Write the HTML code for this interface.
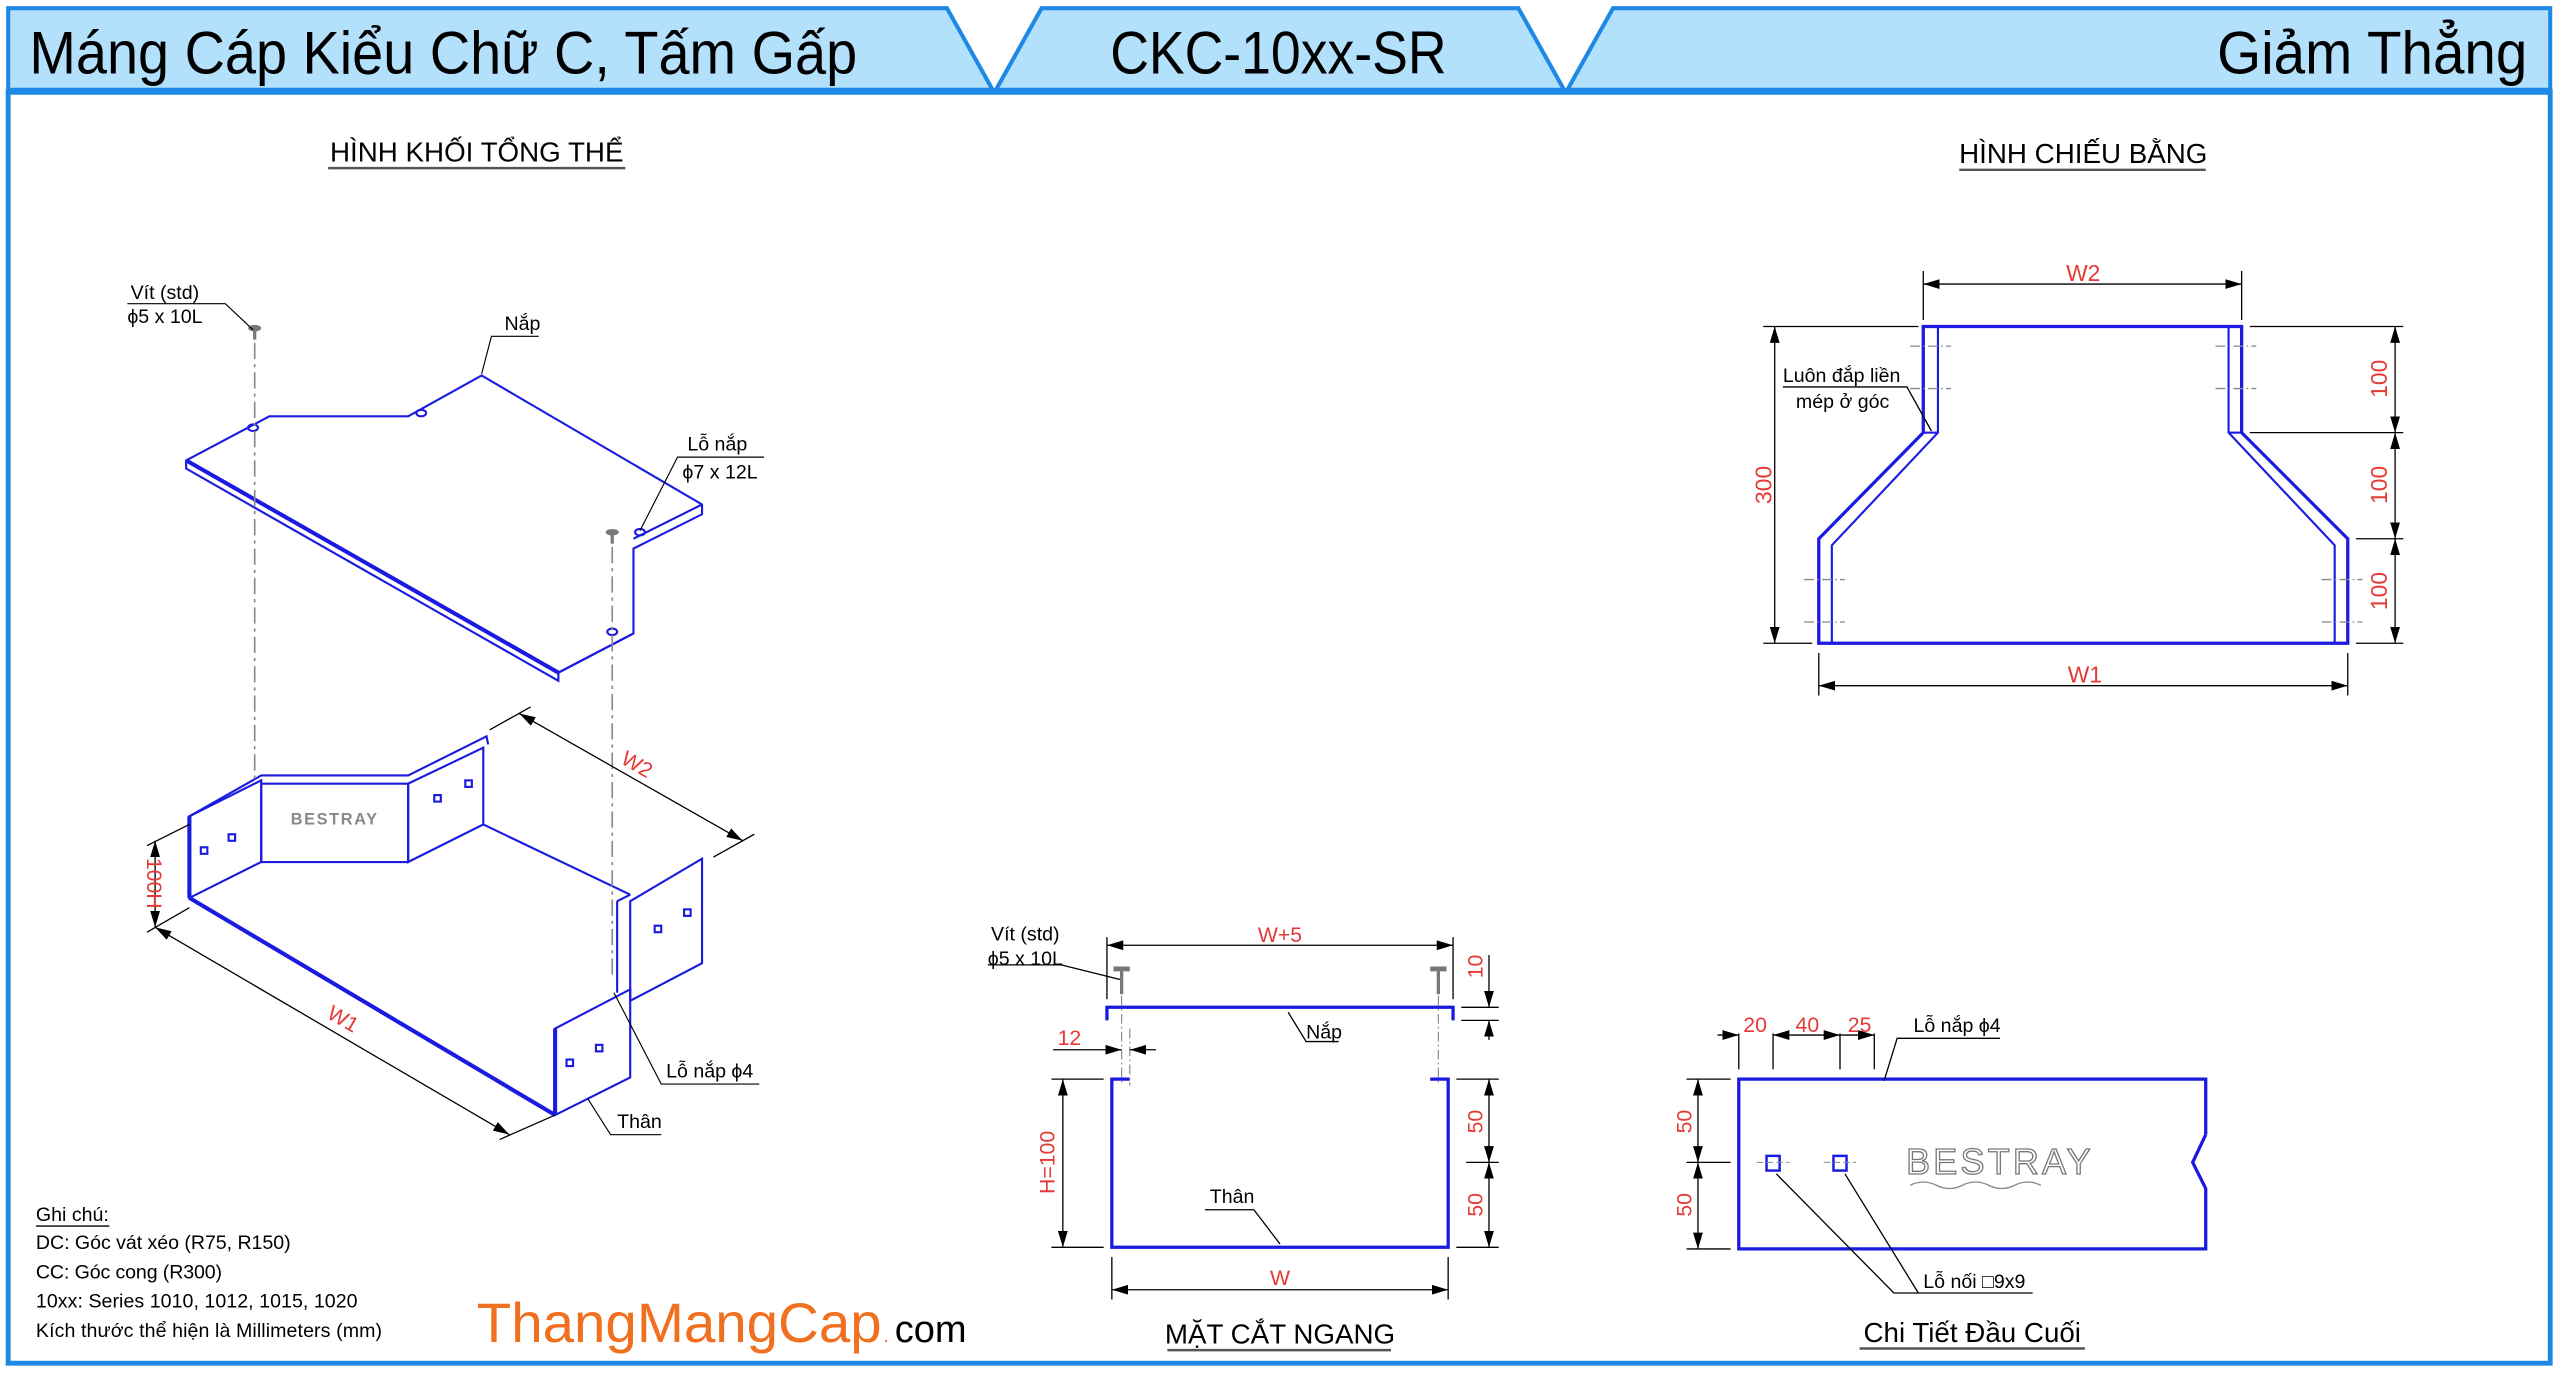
<!DOCTYPE html>
<html><head><meta charset="utf-8"><style>
html,body{margin:0;padding:0;background:#fff;}
svg{display:block;}
text{font-family:"Liberation Sans",sans-serif;}
</style></head><body>
<svg width="2560" height="1373" viewBox="0 0 1568 841" preserveAspectRatio="none" xmlns="http://www.w3.org/2000/svg">
<defs>
<marker id="ar" markerWidth="10" markerHeight="6" refX="10" refY="3" orient="auto-start-reverse" markerUnits="userSpaceOnUse"><path d="M0,0 L10,3 L0,6 Z" fill="#000"/></marker>
</defs>
<rect x="5" y="56" width="1557" height="779" fill="none" stroke="#1e88e5" stroke-width="3"/>
<polygon points="5,5 580,5 608,55 5,55" fill="#b3e0fb" stroke="#1e88e5" stroke-width="2.5"/>
<polygon points="638,5 930,5 958,55 610,55" fill="#b3e0fb" stroke="#1e88e5" stroke-width="2.5"/>
<polygon points="988,5 1562,5 1562,55 960,55" fill="#b3e0fb" stroke="#1e88e5" stroke-width="2.5"/>
<line x1="5" y1="56" x2="1562" y2="56" stroke="#1e88e5" stroke-width="4"/>
<text x="18" y="45" font-size="37" fill="#000" textLength="507" lengthAdjust="spacingAndGlyphs">Máng Cáp Kiểu Chữ C, Tấm Gấp</text>
<text x="680" y="45" font-size="37" fill="#000" textLength="206" lengthAdjust="spacingAndGlyphs">CKC-10xx-SR</text>
<text x="1358" y="45" font-size="37" fill="#000" textLength="190" lengthAdjust="spacingAndGlyphs">Giảm Thẳng</text>

<g font-size="17" fill="#000" text-anchor="middle">
<text x="292" y="99">HÌNH KHỐI TỔNG THỂ</text>
<text x="1276" y="100">HÌNH CHIẾU BẰNG</text>
<text x="784" y="823">MẶT CẮT NGANG</text>
<text x="1208" y="822">Chi Tiết Đầu Cuối</text>
</g>
<g stroke="#555" stroke-width="1.5">
<line x1="201" y1="103" x2="383" y2="103"/><line x1="1200" y1="104" x2="1351" y2="104"/>
<line x1="715" y1="827" x2="852" y2="827"/><line x1="1139" y1="826" x2="1277" y2="826"/>
</g>

<g fill="none" stroke="#1a1ae0" stroke-width="1.3">
<polygon points="114,282 165,255 250,255 295,230 430,309 430,315 388,336 388,388 342,412 342,417 114,287" fill="#fff"/>
<line x1="114" y1="282" x2="342" y2="412" stroke-width="2.5"/>
<line x1="342" y1="412" x2="388" y2="388"/>
<line x1="388" y1="330" x2="430" y2="309"/>
<ellipse cx="155" cy="262" rx="3" ry="2"/><ellipse cx="258" cy="253" rx="3" ry="2"/>
<ellipse cx="375" cy="387" rx="3" ry="2"/><ellipse cx="392" cy="326" rx="3" ry="2"/>
</g>
<g fill="none" stroke="#1a1ae0" stroke-width="1.3">
<polygon points="116,500 160,478 160,528 116,550"/>
<polygon points="160,480 250,480 250,528 160,528"/>
<polygon points="250,480 296,458 296,505 250,528"/>
<polyline points="116,500 160,475 250,475 298,451 299,456"/>
<line x1="296" y1="505" x2="386" y2="548"/>
<polygon points="386,552 430,526 430,590 386,613"/>
<polygon points="340,630 386,606 386,660 340,683"/>
<line x1="378" y1="552" x2="386" y2="548"/><line x1="378" y1="552" x2="378" y2="608"/>
<line x1="116" y1="550" x2="340" y2="683" stroke-width="2.5"/>
<line x1="116" y1="500" x2="116" y2="550" stroke-width="2.5"/>
<line x1="340" y1="630" x2="340" y2="683" stroke-width="2.5"/>
<rect x="123" y="519" width="4" height="4"/><rect x="140" y="511" width="4" height="4"/>
<rect x="266" y="487" width="4" height="4"/><rect x="285" y="478" width="4" height="4"/>
<rect x="401" y="567" width="4" height="4"/><rect x="419" y="557" width="4" height="4"/>
<rect x="347" y="649" width="4" height="4"/><rect x="365" y="640" width="4" height="4"/>
</g>
<text x="205" y="505" font-size="10" fill="#888" text-anchor="middle" font-weight="bold" letter-spacing="1">BESTRAY</text>
<g fill="#777"><ellipse cx="156" cy="201" rx="4" ry="2"/><rect x="155" y="202" width="2" height="6"/>
<ellipse cx="375" cy="326" rx="4" ry="2"/><rect x="374" y="327" width="2" height="6"/></g>
<g stroke="#888" stroke-width="1" stroke-dasharray="10,3,2,3">
<line x1="156" y1="210" x2="156" y2="480"/><line x1="375" y1="335" x2="375" y2="600"/>
</g>
<g stroke="#000" stroke-width="0.8" fill="none">
<line x1="318" y1="437" x2="455" y2="515" marker-start="url(#ar)" marker-end="url(#ar)"/>
<line x1="300" y1="447" x2="325" y2="433"/><line x1="437" y1="525" x2="462" y2="511"/>
<line x1="95" y1="568" x2="312" y2="695" marker-start="url(#ar)" marker-end="url(#ar)"/>
<line x1="90" y1="571" x2="116" y2="556"/><line x1="306" y1="698" x2="340" y2="683"/>
<line x1="95" y1="515" x2="95" y2="568" marker-start="url(#ar)" marker-end="url(#ar)"/>
<line x1="90" y1="518" x2="116" y2="505"/>
</g>
<g fill="#e53935" font-size="13">
<text x="388" y="472" transform="rotate(30 388 472)" text-anchor="middle">W2</text>
<text x="208" y="628" transform="rotate(30 208 628)" text-anchor="middle">W1</text>
<text x="90" y="541" transform="rotate(90 90 541)" text-anchor="middle">100H</text>
</g>
<g font-size="12" fill="#000">
<text x="80" y="183">Vít (std)</text><text x="78" y="198">ϕ5 x 10L</text>
<text x="309" y="202">Nắp</text>
<text x="421" y="276">Lỗ nắp</text><text x="418" y="293">ϕ7 x 12L</text>
<text x="408" y="660">Lỗ nắp ϕ4</text>
<text x="378" y="691">Thân</text>
</g>
<g stroke="#000" stroke-width="0.7" fill="none">
<polyline points="78,186 138,186 155,202"/>
<polyline points="330,206 301,206 295,229"/>
<polyline points="468,280 415,280 392,325"/>
<polyline points="465,664 405,664 376,608"/>
<polyline points="405,695 374,695 360,673"/>
</g>

<g font-size="12" fill="#000">
<text x="22" y="748">Ghi chú:</text>
<text x="22" y="765" textLength="156">DC: Góc vát xéo (R75, R150)</text>
<text x="22" y="783" textLength="114">CC: Góc cong (R300)</text>
<text x="22" y="801" textLength="197">10xx: Series 1010, 1012, 1015, 1020</text>
<text x="22" y="819" textLength="212">Kích thước thể hiện là Millimeters (mm)</text>
</g>
<line x1="22" y1="751" x2="67" y2="751" stroke="#000" stroke-width="0.8"/>
<text x="292" y="822" font-size="34" fill="#f07020" textLength="248" lengthAdjust="spacingAndGlyphs">ThangMangCap</text>
<text x="541" y="822" font-size="12" fill="#f07020">.</text>
<text x="548" y="822" font-size="23" fill="#000" textLength="44" lengthAdjust="spacingAndGlyphs">com</text>

<g fill="none" stroke="#1a1ae0" stroke-width="2">
<polygon points="1178,200 1373,200 1373,265 1438,330 1438,394 1114,394 1114,330 1178,265"/>
</g>
<g fill="none" stroke="#1a1ae0" stroke-width="1.3">
<polyline points="1187,200 1187,265 1122,334 1122,394"/>
<polyline points="1365,200 1365,265 1430,334 1430,394"/>
<line x1="1178" y1="265" x2="1187" y2="265"/><line x1="1365" y1="265" x2="1373" y2="265"/>
</g>
<g stroke="#888" stroke-width="0.8" stroke-dasharray="6,2,1,2">
<line x1="1170" y1="212" x2="1195" y2="212"/><line x1="1170" y1="238" x2="1195" y2="238"/>
<line x1="1357" y1="212" x2="1382" y2="212"/><line x1="1357" y1="238" x2="1382" y2="238"/>
<line x1="1105" y1="355" x2="1130" y2="355"/><line x1="1105" y1="381" x2="1130" y2="381"/>
<line x1="1422" y1="355" x2="1447" y2="355"/><line x1="1422" y1="381" x2="1447" y2="381"/>
</g>
<g stroke="#000" stroke-width="0.8" fill="none">
<line x1="1178" y1="174" x2="1373" y2="174" marker-start="url(#ar)" marker-end="url(#ar)"/>
<line x1="1178" y1="166" x2="1178" y2="196"/><line x1="1373" y1="166" x2="1373" y2="196"/>
<line x1="1114" y1="420" x2="1438" y2="420" marker-start="url(#ar)" marker-end="url(#ar)"/>
<line x1="1114" y1="400" x2="1114" y2="426"/><line x1="1438" y1="400" x2="1438" y2="426"/>
<line x1="1087" y1="200" x2="1087" y2="394" marker-start="url(#ar)" marker-end="url(#ar)"/>
<line x1="1080" y1="200" x2="1175" y2="200"/><line x1="1080" y1="394" x2="1110" y2="394"/>
<line x1="1467" y1="200" x2="1467" y2="265" marker-start="url(#ar)" marker-end="url(#ar)"/>
<line x1="1467" y1="265" x2="1467" y2="330" marker-start="url(#ar)" marker-end="url(#ar)"/>
<line x1="1467" y1="330" x2="1467" y2="394" marker-start="url(#ar)" marker-end="url(#ar)"/>
<line x1="1378" y1="200" x2="1472" y2="200"/><line x1="1378" y1="265" x2="1472" y2="265"/>
<line x1="1443" y1="330" x2="1472" y2="330"/><line x1="1443" y1="394" x2="1472" y2="394"/>
<polyline points="1092,237 1168,237 1183,264"/>
</g>
<g fill="#e53935" font-size="14" text-anchor="middle">
<text x="1276" y="172">W2</text><text x="1277" y="418">W1</text>
<text x="1085" y="297" transform="rotate(-90 1085 297)">300</text>
<text x="1462" y="232" transform="rotate(-90 1462 232)">100</text>
<text x="1462" y="297" transform="rotate(-90 1462 297)">100</text>
<text x="1462" y="362" transform="rotate(-90 1462 362)">100</text>
</g>
<g font-size="12" fill="#000"><text x="1092" y="234">Luôn đắp liền</text><text x="1100" y="250">mép ở góc</text></g>

<g fill="none" stroke="#1a1ae0" stroke-width="2">
<polyline points="678,625 678,617 890,617 890,625"/>
<polyline points="692,661 681,661 681,764 887,764 887,661 876,661"/>
</g>
<g fill="#777"><rect x="682" y="592" width="10" height="3"/><rect x="686" y="595" width="2" height="14"/>
<rect x="876" y="592" width="10" height="3"/><rect x="880" y="595" width="2" height="14"/></g>
<g stroke="#888" stroke-width="0.7" stroke-dasharray="6,2,1,2">
<line x1="687" y1="610" x2="687" y2="665"/><line x1="881" y1="610" x2="881" y2="665"/>
<line x1="692" y1="630" x2="692" y2="665"/>
</g>
<g stroke="#000" stroke-width="0.8" fill="none">
<line x1="678" y1="579" x2="890" y2="579" marker-start="url(#ar)" marker-end="url(#ar)"/>
<line x1="678" y1="574" x2="678" y2="612"/><line x1="890" y1="574" x2="890" y2="612"/>
<line x1="645" y1="643" x2="687" y2="643" marker-end="url(#ar)"/><line x1="708" y1="643" x2="692" y2="643" marker-end="url(#ar)"/>
<line x1="651" y1="661" x2="651" y2="764" marker-start="url(#ar)" marker-end="url(#ar)"/>
<line x1="644" y1="661" x2="676" y2="661"/><line x1="644" y1="764" x2="676" y2="764"/>
<line x1="912" y1="661" x2="912" y2="712" marker-start="url(#ar)" marker-end="url(#ar)"/>
<line x1="912" y1="712" x2="912" y2="764" marker-start="url(#ar)" marker-end="url(#ar)"/>
<line x1="892" y1="661" x2="918" y2="661"/><line x1="898" y1="712" x2="918" y2="712"/><line x1="892" y1="764" x2="918" y2="764"/>
<line x1="912" y1="585" x2="912" y2="617" marker-end="url(#ar)"/><line x1="912" y1="637" x2="912" y2="625" marker-end="url(#ar)"/>
<line x1="895" y1="617" x2="918" y2="617"/><line x1="895" y1="625" x2="918" y2="625"/>
<line x1="681" y1="790" x2="887" y2="790" marker-start="url(#ar)" marker-end="url(#ar)"/>
<line x1="681" y1="770" x2="681" y2="796"/><line x1="887" y1="770" x2="887" y2="796"/>
<polyline points="605,591 650,591 686,600"/>
<polyline points="820,638 800,638 789,620"/>
<polyline points="738,741 768,741 784,762"/>
</g>
<g fill="#e53935" font-size="13" text-anchor="middle">
<text x="784" y="577">W+5</text><text x="655" y="640">12</text><text x="784" y="787">W</text>
<text x="646" y="712" transform="rotate(-90 646 712)">H=100</text>
<text x="908" y="687" transform="rotate(-90 908 687)">50</text>
<text x="908" y="738" transform="rotate(-90 908 738)">50</text>
<text x="908" y="592" transform="rotate(-90 908 592)">10</text>
</g>
<g font-size="12" fill="#000">
<text x="607" y="576">Vít (std)</text><text x="605" y="591">ϕ5 x 10L</text>
<text x="800" y="636">Nắp</text><text x="741" y="737">Thân</text>
</g>

<g fill="none" stroke="#1a1ae0" stroke-width="2">
<polyline points="1351,695 1351,661 1065,661 1065,765 1351,765 1351,728 1343,712 1351,695"/>
<rect x="1082" y="708" width="8" height="9" stroke-width="1.5"/><rect x="1123" y="708" width="8" height="9" stroke-width="1.5"/>
</g>
<text x="1225" y="719" font-size="22" fill="none" stroke="#777" stroke-width="0.8" text-anchor="middle" letter-spacing="2">BESTRAY</text>
<path d="M1170,726 q8,-4 16,0 t16,0 t16,0 t16,0 t16,0" fill="none" stroke="#888" stroke-width="0.8"/>
<g stroke="#000" stroke-width="0.8" fill="none">
<line x1="1065" y1="633" x2="1065" y2="655"/><line x1="1086" y1="633" x2="1086" y2="655"/>
<line x1="1127" y1="633" x2="1127" y2="655"/><line x1="1148" y1="633" x2="1148" y2="655"/>
<line x1="1052" y1="634" x2="1065" y2="634" marker-end="url(#ar)"/>
<line x1="1086" y1="634" x2="1127" y2="634" marker-start="url(#ar)" marker-end="url(#ar)"/>
<line x1="1127" y1="634" x2="1148" y2="634" marker-end="url(#ar)"/>
<line x1="1040" y1="661" x2="1040" y2="712" marker-start="url(#ar)" marker-end="url(#ar)"/>
<line x1="1040" y1="712" x2="1040" y2="765" marker-start="url(#ar)" marker-end="url(#ar)"/>
<line x1="1033" y1="661" x2="1060" y2="661"/><line x1="1033" y1="712" x2="1060" y2="712"/><line x1="1033" y1="765" x2="1060" y2="765"/>
<polyline points="1225,636 1162,636 1154,662"/>
<polyline points="1245,792 1160,792 1088,719"/>
<line x1="1175" y1="792" x2="1130" y2="719"/>
</g>
<g stroke="#888" stroke-width="0.6" stroke-dasharray="4,2"><line x1="1076" y1="712" x2="1096" y2="712"/><line x1="1117" y1="712" x2="1137" y2="712"/></g>
<g fill="#e53935" font-size="13" text-anchor="middle">
<text x="1075" y="632">20</text><text x="1107" y="632">40</text><text x="1139" y="632">25</text>
<text x="1036" y="687" transform="rotate(-90 1036 687)">50</text>
<text x="1036" y="738" transform="rotate(-90 1036 738)">50</text>
</g>
<g font-size="12" fill="#000"><text x="1172" y="632">Lỗ nắp ϕ4</text><text x="1178" y="789">Lỗ nối □9x9</text></g>
</svg>
</body></html>
